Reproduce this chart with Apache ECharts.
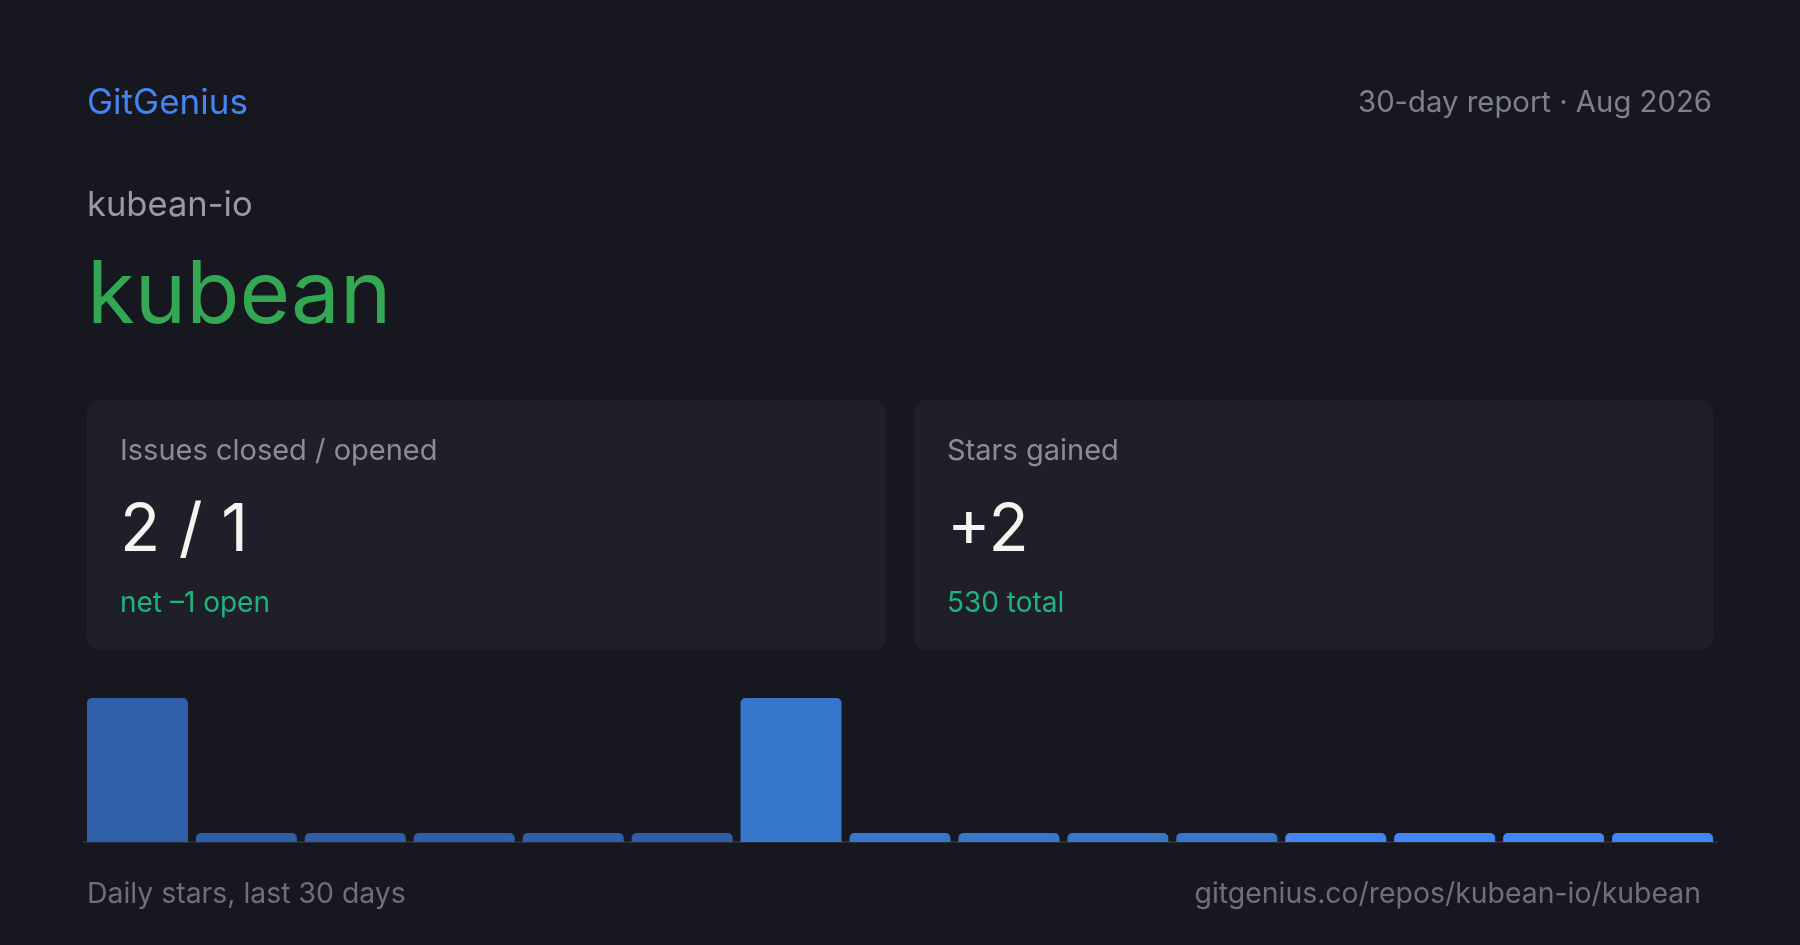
<!DOCTYPE html>
<html>
<head>
<meta charset="utf-8">
<script src="https://cdn.jsdelivr.net/npm/echarts@6/dist/echarts.min.js"></script>
<style>
html,body{margin:0;padding:0;background:#17181f;}
#chart{width:1800px;height:945px;}
</style>
</head>
<body>
<div id="chart"></div>
<script>
// ---- data ----
const days = ['d1','d2','d3','d4','d5','d6','d7','d8','d9','d10','d11','d12','d13','d14','d15'];
const dailyStars = [1,0,0,0,0,0,1,0,0,0,0,0,0,0,0];
const barColors = ['#2f5fa9','#2f5fa9','#2f5fa9','#2f5fa9','#2f5fa9','#2f5fa9',
  '#3677cb','#3677cb','#3677cb','#3677cb','#3677cb',
  '#4285f4','#4285f4','#4285f4','#4285f4'];
const brand = 'GitGenius';
const reportLabel = '30-day report · Aug 2026';
const owner = 'kubean-io';
const repo = 'kubean';
const cards = [
  {label:'Issues closed / opened', value:'2 / 1', sub:'net –1 open'},
  {label:'Stars gained', value:'+2', sub:'530 total'}
];
const footerLeft = 'Daily stars, last 30 days';
const footerRight = 'gitgenius.co/repos/kubean-io/kubean';

const FONT = 'Inter, "Noto Sans", sans-serif';
const chart = echarts.init(document.getElementById('chart'), null, {renderer:'canvas'});

const cardX = [87, 914];
function txt(text, x, y, size, color, align, weight){
  return {type:'text', style:{text:text, x:x, y:y, fill:color, fontFamily:FONT, fontSize:size, fontWeight:weight||400, textAlign:align||'left', textVerticalAlign:'middle'}};
}
const g = [];
g.push(txt(brand, 87, 103.5, 35, '#4285f4'));
g.push(txt(reportLabel, 1712, 103.5, 29.3, '#7f808b', 'right'));
g.push(txt(owner, 87, 205.5, 34.5, '#9a9aa3'));
g.push(txt(repo, 87, 297, 87, '#33a853'));
cards.forEach((c,i)=>{
  const x = cardX[i];
  g.push({type:'rect', shape:{x:x, y:400, width:799, height:250, r:12}, style:{fill:'#1f1f2a'}});
  g.push(txt(c.label, x+33, 451.5, 29, '#8b8c96'));
  g.push(txt(c.value, x+33, 531, 66, '#f4f4f0'));
  g.push(txt(c.sub, x+33, 604, 28, '#1db47e'));
});
g.push(txt(footerLeft, 87, 894, 28.4, '#6e6f7a'));
g.push(txt(footerRight, 1701, 894, 28.4, '#6e6f7a', 'right'));

chart.setOption({
  backgroundColor:'#17181f',
  animation:false,
  grid:{left:83, right:83, top:698, bottom:103},
  xAxis:{type:'category', data:days, axisLine:{show:true, lineStyle:{color:'#2b2c38', width:2}}, axisTick:{show:false}, axisLabel:{show:false}},
  yAxis:{type:'value', min:0, max:1, show:false, splitLine:{show:false}},
  series:[{
    type:'bar',
    data:dailyStars.map((v,i)=>({value:v, itemStyle:{color:barColors[i]}})),
    barWidth:101,
    barMinHeight:9,
    itemStyle:{borderRadius:[5,5,0,0]},
    silent:true
  }],
  graphic:g
});
</script>
</body>
</html>
